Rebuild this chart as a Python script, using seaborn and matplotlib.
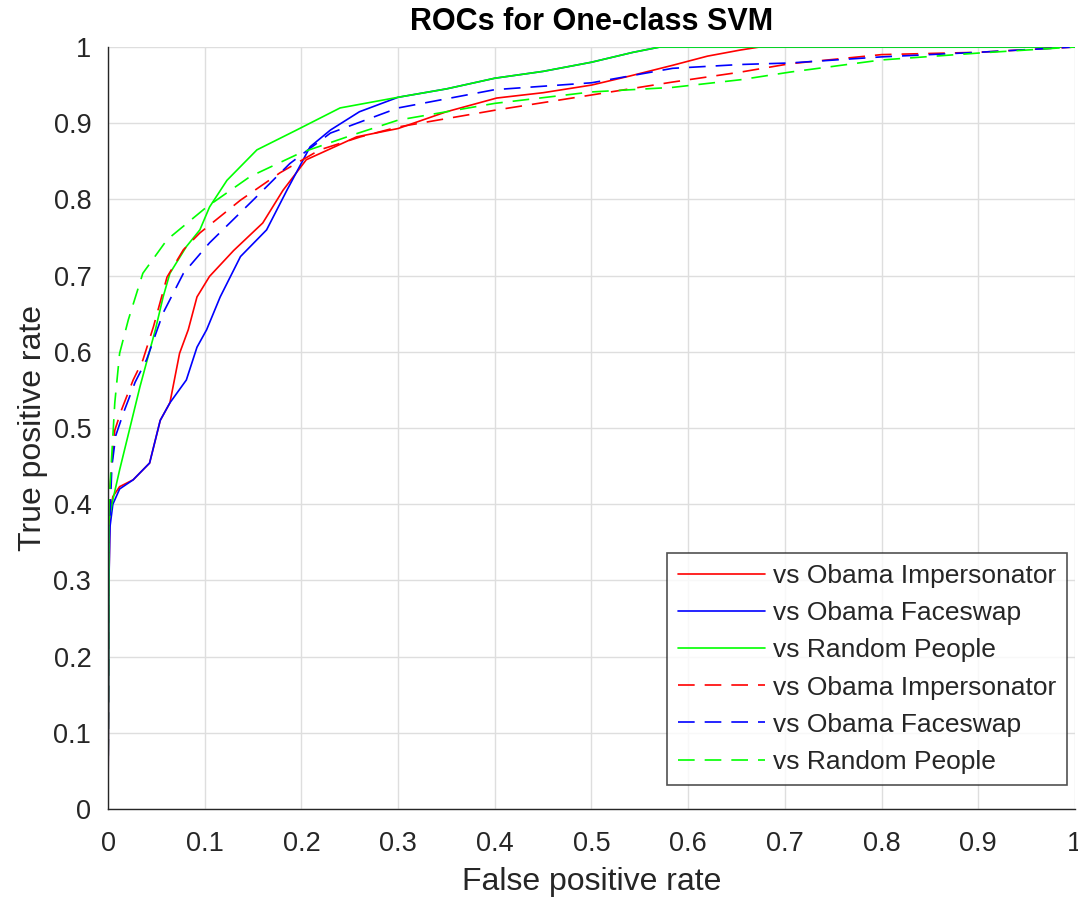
import pandas as pd
import numpy as np
import matplotlib.pyplot as plt
import seaborn as sns

# ROC points (false positive rate, true positive rate)
labels = ["vs Obama Impersonator", "vs Obama Faceswap", "vs Random People"]

red_solid_fpr = [0, 0.001, 0.002, 0.005, 0.012, 0.026, 0.043, 0.054, 0.064, 0.074, 0.083, 0.092, 0.105,
                 0.130, 0.160, 0.181, 0.205, 0.257, 0.30, 0.35, 0.402, 0.45, 0.50, 0.54, 0.584, 0.62,
                 0.654, 0.674, 1.0]
red_solid_tpr = [0, 0.30, 0.388, 0.41, 0.423, 0.432, 0.454, 0.51, 0.533, 0.598, 0.629, 0.672, 0.699,
                 0.733, 0.769, 0.812, 0.852, 0.882, 0.893, 0.915, 0.933, 0.94, 0.950, 0.962, 0.976, 0.988,
                 0.996, 1.0, 1.0]

blue_solid_fpr = [0, 0.001, 0.002, 0.005, 0.012, 0.026, 0.043, 0.054, 0.064, 0.081, 0.092, 0.102, 0.116,
                  0.137, 0.164, 0.185, 0.209, 0.230, 0.26, 0.30, 0.35, 0.40, 0.45, 0.50, 0.543, 0.571, 1.0]
blue_solid_tpr = [0, 0.30, 0.37, 0.40, 0.42, 0.432, 0.454, 0.51, 0.533, 0.563, 0.606, 0.629, 0.672,
                  0.725, 0.760, 0.812, 0.869, 0.891, 0.915, 0.934, 0.945, 0.959, 0.968, 0.98, 0.993, 1.0, 1.0]

green_solid_fpr = [0, 0.001, 0.004, 0.012, 0.023, 0.033, 0.049, 0.057, 0.064, 0.081, 0.095, 0.105, 0.123,
                   0.154, 0.195, 0.24, 0.30, 0.35, 0.40, 0.45, 0.50, 0.543, 0.571, 1.0]
green_solid_tpr = [0, 0.379, 0.40, 0.445, 0.502, 0.554, 0.629, 0.672, 0.703, 0.738, 0.76, 0.79, 0.825,
                   0.865, 0.891, 0.92, 0.934, 0.945, 0.959, 0.968, 0.98, 0.993, 1.0, 1.0]

red_dash_fpr = [0, 0.001, 0.004, 0.007, 0.014, 0.026, 0.036, 0.047, 0.061, 0.078, 0.095, 0.137, 0.178,
                0.219, 0.261, 0.30, 0.40, 0.50, 0.584, 0.654, 0.705, 0.80, 0.90, 1.0]
red_dash_tpr = [0, 0.40, 0.454, 0.497, 0.524, 0.563, 0.589, 0.633, 0.698, 0.734, 0.756, 0.799, 0.835,
                0.865, 0.882, 0.895, 0.917, 0.937, 0.954, 0.967, 0.978, 0.99, 0.993, 1.0]

blue_dash_fpr = [0, 0.001, 0.004, 0.008, 0.016, 0.028, 0.040, 0.057, 0.078, 0.105, 0.150, 0.188, 0.230,
                 0.30, 0.40, 0.50, 0.584, 0.654, 0.705, 0.80, 0.90, 1.0]
blue_dash_tpr = [0, 0.35, 0.45, 0.49, 0.52, 0.56, 0.59, 0.651, 0.703, 0.743, 0.799, 0.847, 0.887,
                 0.92, 0.944, 0.953, 0.972, 0.977, 0.979, 0.987, 0.993, 1.0]

green_dash_fpr = [0, 0.001, 0.004, 0.007, 0.012, 0.021, 0.036, 0.061, 0.102, 0.147, 0.199, 0.254, 0.30,
                  0.40, 0.50, 0.584, 0.654, 0.705, 0.80, 0.90, 1.0]
green_dash_tpr = [0, 0.40, 0.467, 0.533, 0.598, 0.642, 0.703, 0.747, 0.79, 0.83, 0.861, 0.885, 0.904,
                  0.926, 0.941, 0.947, 0.957, 0.967, 0.983, 0.992, 1.0]

curves = [
    (red_solid_fpr, red_solid_tpr, labels[0], "#ff0000", "-"),
    (blue_solid_fpr, blue_solid_tpr, labels[1], "#0000ff", "-"),
    (green_solid_fpr, green_solid_tpr, labels[2], "#00ff00", "-"),
    (red_dash_fpr, red_dash_tpr, labels[0], "#ff0000", "--"),
    (blue_dash_fpr, blue_dash_tpr, labels[1], "#0000ff", "--"),
    (green_dash_fpr, green_dash_tpr, labels[2], "#00ff00", "--"),
]

sns.set_style("white")
plt.rcParams["font.family"] = ["Liberation Sans", "DejaVu Sans"]
text_color = "#262626"

fig = plt.figure(figsize=(10.78, 9.0), dpi=100)
ax = fig.add_axes([0.1002, 0.1011, 0.897, 0.8467])

for fpr, tpr, label, color, style in curves:
    df = pd.DataFrame({"fpr": fpr, "tpr": tpr})
    sns.lineplot(data=df, x="fpr", y="tpr", sort=False, estimator=None, ax=ax,
                 color=color, linewidth=1.2, label=label)
    line = ax.get_lines()[-1]
    if style == "--":
        line.set_dashes((10, 6))

ax.set_xlim(0, 1)
ax.set_ylim(0, 1)
ticks = np.arange(0, 1.01, 0.1)
tick_text = ["0"] + [f"{v:.1f}" for v in ticks[1:-1]] + ["1"]
ax.set_xticks(ticks)
ax.set_yticks(ticks)
ax.set_xticklabels(tick_text)
ax.set_yticklabels(tick_text)
ax.grid(True, color="#dedede", linewidth=1.0)
ax.set_axisbelow(True)

for side in ["top", "right"]:
    ax.spines[side].set_visible(False)
for side in ["left", "bottom"]:
    ax.spines[side].set_color(text_color)
    ax.spines[side].set_linewidth(1.0)

ax.tick_params(direction="in", length=7, width=1.0, colors=text_color, labelsize=19.5)
ax.tick_params(axis="y", pad=12)
ax.tick_params(axis="x", pad=16)

ax.set_xlabel("False positive rate", fontsize=23, color=text_color, labelpad=7)
ax.set_ylabel("True positive rate", fontsize=23, color=text_color, labelpad=4)
ax.set_title("ROCs for One-class SVM", fontsize=22, fontweight="bold", color="black", pad=12)

leg = ax.legend(loc="lower right", bbox_to_anchor=(0.9917, 0.0315), borderaxespad=0, fontsize=19,
                frameon=True, fancybox=False, edgecolor=text_color, handlelength=3.3,
                handletextpad=0.27, labelspacing=0.5, borderpad=0.42, labelcolor=text_color)
leg.get_frame().set_linewidth(1.2)

plt.savefig("out.png", dpi=100)
